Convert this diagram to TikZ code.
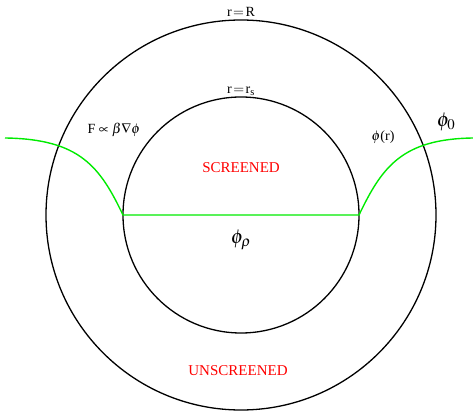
\documentclass[tikz,border=0pt]{standalone}
\usepackage{amsmath, amssymb}
\usepackage{mathptmx}
\usepackage[no-math]{fontspec}
\setmainfont{Liberation Serif}
\usepackage{xcolor}
\usepackage{tikz}
\definecolor{fieldgreen}{RGB}{0, 235, 0}

\begin{document}
\begin{tikzpicture}[x=1pt, y=1pt]
    \useasboundingbox (0,0) rectangle (473,412);
    \tikzset{lbl/.style={font=\fontsize{14}{16}\selectfont, inner sep=0pt},
             zone/.style={font=\fontsize{15}{17}\selectfont, text=red, inner sep=0pt},
             pot/.style={font=\fontsize{20}{23}\selectfont, inner sep=0pt}}
    \coordinate (ctr) at (241,197);
    \draw[black, line width=1.3pt] (ctr) circle (195);
    \draw[black, line width=1.3pt] (ctr) circle (118);

    \coordinate (farL) at (5,274);
    \coordinate (rimL) at (123,197);
    \coordinate (rimR) at (359,197);
    \coordinate (farR) at (473,274);
    \draw[fieldgreen, line width=1.4pt] (farL) .. controls (80,273) and (100,245) .. (rimL)
        -- (rimR) .. controls (382,245) and (402,273) .. (farR);

    \node[lbl] (outerR) at (241,400) {r$\,{=}\,$R};
    \node[lbl] (innerR) at (241,321) {r$\,=\,$r$_{\text{s}}$};
    \node[lbl] (force) at (114,282) {F $\propto\beta\nabla\phi$};
    \node[lbl] (phir) at (383,275) {$\phi$(r)};
    \node[pot] (phizero) at (446,290) {$\phi_0$};
    \node[pot] (phirho) at (241,172) {$\phi_\rho$};
    \node[zone] (scr) at (241,244) {SCREENED};
    \node[zone] (unscr) at (238,41) {UNSCREENED};
\end{tikzpicture}
\end{document}
